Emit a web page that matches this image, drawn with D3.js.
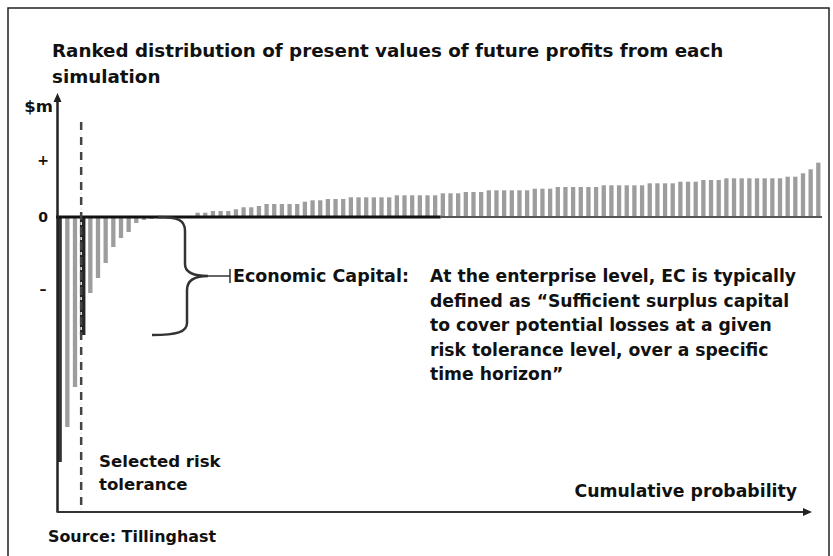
<!DOCTYPE html>
<html>
<head>
<meta charset="utf-8">
<script src="https://cdn.jsdelivr.net/npm/d3@7"></script>
<style>
  body { margin: 0; background: #fff; }
  svg { display: block; font-family: "DejaVu Sans", Verdana, sans-serif; font-weight: 700; }
</style>
</head>
<body>
<svg id="chart" width="833" height="556"></svg>
<script>
// ranked simulation results, 100 scenarios, arbitrary $m units
const negValues = [-245, -210, -170, -118, -76, -61, -46, -30, -21, -15, -6, -3, -2, -1.5, -1, -1, -0.5, -0.5];
const posValues = [
  4.3, 4.3, 6, 6, 6, 7.7, 9.7, 9.7, 11, 13, 13, 13, 13, 13, 15.3, 16.7, 16.7, 18, 18, 18,
  19.7, 19.7, 19.7, 19.7, 19.7, 19.7, 21.7, 21.7, 21.7, 21.7, 21.7, 21.7, 23.7, 23.7, 23.7,
  25, 25, 25, 26.7, 26.7, 26.7, 26.7, 26.7, 26.7, 28.3, 28.3, 28.3,
  30, 30, 30, 30, 30, 30, 31.7, 31.7, 31.7, 31.7, 31.7, 31.7, 33.7, 33.7, 33.7, 33.7,
  35.3, 35.3, 35.3, 37, 37, 37, 38.7, 38.7, 38.7, 38.7, 38.7, 38.7, 38.7, 38.7,
  40.3, 40.3, 43.7, 47.7, 54.3
];
const values = negValues.concat(posValues);
const highlighted = [0, 3];    // darker bars
const selectedIdx = 3;         // selected risk tolerance
const yTicks = [57, 0, -72];
const yTickLabels = ['+', '0', '\u2013'];

const title = ['Ranked distribution of present values of future profits from each', 'simulation'];
const noteLines = [
  'At the enterprise level, EC is typically',
  'defined as \u201cSufficient surplus capital',
  'to cover potential losses at a given',
  'risk tolerance level, over a specific',
  'time horizon\u201d'
];

const svg = d3.select('#chart');

// outer frame
svg.append('rect')
  .attr('x', 8).attr('y', 8)
  .attr('width', 821).attr('height', 560)
  .attr('fill', 'none')
  .attr('stroke', '#222')
  .attr('stroke-width', 1.5);

const x = d3.scaleBand()
  .domain(d3.range(values.length))
  .range([56, 822])
  .paddingInner(0.44)
  .paddingOuter(0.2);

const y = d3.scaleLinear()
  .domain([-295, 124])
  .range([512, 93]);

const xAxisEnd = 812;

// title
svg.append('text')
  .attr('font-size', 18.3)
  .attr('fill', '#111')
  .selectAll('tspan')
  .data(title)
  .join('tspan')
  .attr('x', 52)
  .attr('y', (d, i) => 57 + i * 26)
  .text(d => d);

// bars
svg.append('g')
  .selectAll('rect')
  .data(values)
  .join('rect')
  .attr('x', (d, i) => x(i) - (i === selectedIdx ? 0.6 : 0))
  .attr('width', (d, i) => x.bandwidth() + (i === selectedIdx ? 1.2 : 0))
  .attr('y', d => y(Math.max(0, d)))
  .attr('height', d => Math.abs(y(d) - y(0)))
  .attr('fill', (d, i) => i === selectedIdx ? '#262626' : highlighted.includes(i) ? '#333' : '#9d9d9d');

// zero line: thick black for lower half of scenarios, grey after
const mid = x(values.length / 2);
svg.append('line')
  .attr('x1', x.range()[0]).attr('x2', mid)
  .attr('y1', y(0)).attr('y2', y(0))
  .attr('stroke', '#111').attr('stroke-width', 3);
svg.append('line')
  .attr('x1', mid).attr('x2', x.range()[1])
  .attr('y1', y(0)).attr('y2', y(0))
  .attr('stroke', '#555').attr('stroke-width', 2);

// axes with arrows
const axisX0 = x.range()[0] + 1.5;
svg.append('line')
  .attr('x1', axisX0).attr('x2', axisX0)
  .attr('y1', y.range()[0]).attr('y2', y.range()[1] + 6)
  .attr('stroke', '#222').attr('stroke-width', 2.5);
svg.append('path')
  .attr('d', `M${axisX0 - 4},${y.range()[1] + 9}L${axisX0},${y.range()[1]}L${axisX0 + 4},${y.range()[1] + 9}Z`)
  .attr('fill', '#222');
svg.append('line')
  .attr('x1', axisX0 - 1).attr('x2', xAxisEnd - 6)
  .attr('y1', y.range()[0]).attr('y2', y.range()[0])
  .attr('stroke', '#333').attr('stroke-width', 2);
svg.append('path')
  .attr('d', `M${xAxisEnd - 9},${y.range()[0] - 4}L${xAxisEnd},${y.range()[0]}L${xAxisEnd - 9},${y.range()[0] + 4}Z`)
  .attr('fill', '#222');

// y labels
svg.append('text')
  .attr('x', 53).attr('y', 112)
  .attr('text-anchor', 'end')
  .attr('font-size', 16.5)
  .attr('fill', '#111')
  .text('$m');
svg.append('g')
  .selectAll('text')
  .data(yTicks)
  .join('text')
  .attr('x', 43)
  .attr('y', d => y(d) + 5)
  .attr('text-anchor', 'middle')
  .attr('font-size', 14)
  .attr('fill', '#111')
  .text((d, i) => yTickLabels[i]);

// selected risk tolerance marker
const selX = x(selectedIdx) + x.bandwidth() / 2 - 1.5;
svg.append('line')
  .attr('x1', selX).attr('x2', selX)
  .attr('y1', 122).attr('y2', y.range()[0])
  .attr('stroke', '#444').attr('stroke-width', 2.5)
  .attr('stroke-dasharray', '8,7');
svg.append('line')
  .attr('x1', selX).attr('x2', selX)
  .attr('y1', 122).attr('y2', y.range()[0])
  .attr('stroke', '#eee').attr('stroke-width', 1.5)
  .attr('stroke-dasharray', '3,12')
  .attr('stroke-dashoffset', -10);

// brace showing economic capital
const yTop = y(0);
const yBot = y(values[selectedIdx]);
const yMid = (yTop + yBot) / 2;
const bx = 185;
const tip = 208;
const brace = d3.path();
brace.moveTo(158, yTop);
brace.bezierCurveTo(178, yTop, bx, yTop + 3, bx, yTop + 14);
brace.lineTo(bx, yMid - 12);
brace.bezierCurveTo(bx, yMid - 3, bx + 10, yMid, tip, yMid);
brace.moveTo(tip, yMid);
brace.bezierCurveTo(bx + 10, yMid, bx + 2, yMid + 4, bx + 2, yMid + 14);
brace.lineTo(bx + 2, yBot - 12);
brace.bezierCurveTo(bx + 2, yBot - 3, bx - 8, yBot, 152, yBot);
svg.append('path')
  .attr('d', brace.toString())
  .attr('fill', 'none')
  .attr('stroke', '#333')
  .attr('stroke-width', 2.5);
svg.append('path')
  .attr('d', `M${tip},${yMid}L230,${yMid}M230,${yMid - 7}L230,${yMid + 7}`)
  .attr('fill', 'none')
  .attr('stroke', '#333')
  .attr('stroke-width', 1.5);

svg.append('text')
  .attr('x', 233).attr('y', yMid + 6)
  .attr('font-size', 17.5)
  .attr('fill', '#111')
  .text('Economic Capital:');

svg.append('text')
  .attr('font-size', 17.2)
  .attr('fill', '#111')
  .selectAll('tspan')
  .data(noteLines)
  .join('tspan')
  .attr('x', 430)
  .attr('y', (d, i) => yMid + 6 + i * 24.6)
  .text(d => d);

svg.append('text')
  .attr('font-size', 16.6)
  .attr('fill', '#111')
  .selectAll('tspan')
  .data(['Selected risk', 'tolerance'])
  .join('tspan')
  .attr('x', 99)
  .attr('y', (d, i) => 467 + i * 23)
  .text(d => d);

svg.append('text')
  .attr('x', 797).attr('y', 497)
  .attr('text-anchor', 'end')
  .attr('font-size', 17.3)
  .attr('fill', '#111')
  .text('Cumulative probability');

svg.append('text')
  .attr('x', 48).attr('y', 542)
  .attr('font-size', 15.9)
  .attr('fill', '#111')
  .text('Source: Tillinghast');
</script>
</body>
</html>
